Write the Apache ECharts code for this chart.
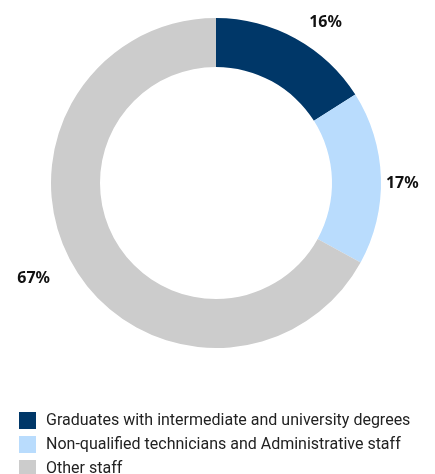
<!DOCTYPE html>
<html>
<head>
<meta charset="utf-8">
<script src="https://cdn.jsdelivr.net/npm/echarts@6/dist/echarts.min.js"></script>
<style>
html,body{margin:0;padding:0;background:#fff;}
#c{width:435px;height:474px;}
</style>
</head>
<body>
<div id="c"></div>
<script>
var categories = [
  'Graduates with intermediate and university degrees',
  'Non-qualified technicians and Administrative staff',
  'Other staff'
];
var values = [16, 17, 67];
var colors = ['#003768', '#b9dcfd', '#cccccc'];
var lineLengths = [18, 0, 22];
var labelFormats = ['{c}%', '\n{c}%', '{c}%'];

var chart = echarts.init(document.getElementById('c'), null, {renderer: 'canvas'});
chart.setOption({
  animation: false,
  color: colors,
  legend: {
    orient: 'vertical',
    left: 14,
    top: 407,
    height: 200,
    itemWidth: 17,
    itemHeight: 17,
    itemGap: 7,
    icon: 'rect',
    textStyle: {
      fontFamily: 'Roboto',
      fontSize: 16,
      color: '#222',
      padding: [0, 0, 0, 5]
    },
    data: categories
  },
  series: [{
    type: 'pie',
    center: [216, 183],
    radius: [116, 165],
    startAngle: 90,
    clockwise: true,
    avoidLabelOverlap: false,
    label: {
      show: true,
      position: 'outside',
      fontFamily: 'Noto Sans',
      fontWeight: 'bold',
      fontSize: 16,
      lineHeight: 12,
      color: '#111'
    },
    labelLine: { show: false, length2: 0 },
    emphasis: { disabled: true },
    data: categories.map(function (n, i) {
      return {
        name: n,
        value: values[i],
        label: { formatter: labelFormats[i] },
        labelLine: { show: false, length: lineLengths[i], length2: 0 }
      };
    })
  }]
});
</script>
</body>
</html>
